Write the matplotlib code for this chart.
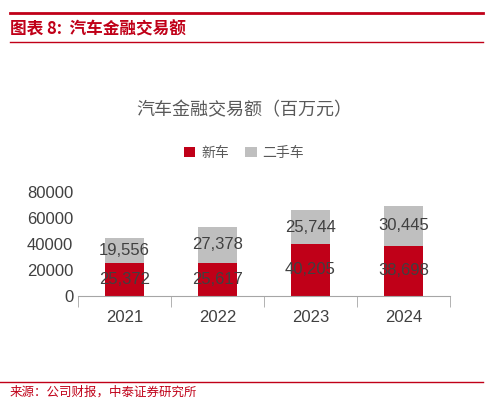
import numpy as np
import matplotlib.pyplot as plt
from matplotlib.lines import Line2D

plt.rcParams['font.family'] = ['Noto Sans CJK SC', 'DejaVu Sans']
num_font = ['Liberation Sans', 'DejaVu Sans']

years = ['2021', '2022', '2023', '2024']
new_car = [25372, 25617, 40205, 38698]
used_car = [19556, 27378, 25744, 30445]
red = '#C00018'
grey = '#BFBFBF'

fig = plt.figure(figsize=(4.88, 4.07), dpi=100)

# header / footer decoration
fig.add_artist(Line2D([0.02, 0.99], [1 - 13/407] * 2, color=red, lw=2))
fig.add_artist(Line2D([0.02, 0.99], [1 - 42/407] * 2, color=red, lw=1))
fig.text(0.02, 1 - 29/407, '图表 8:  汽车金融交易额', color=red, fontsize=12,
         fontweight='bold', style='italic', va='center')
fig.add_artist(Line2D([0.0, 0.99], [1 - 382/407] * 2, color=red, lw=1))
fig.text(0.02, 1 - 392/407, '来源：公司财报，中泰证券研究所', color=red, fontsize=9, va='center')

fig.text(0.5, 1 - 110/407, '汽车金融交易额（百万元）', color='#595959', fontsize=13,
         ha='center', va='center')

ax = fig.add_axes([0.16, 0.273, 0.762, 0.255])
x = np.arange(len(years))
b1 = ax.bar(x, new_car, width=0.42, color=red, label='新车')
b2 = ax.bar(x, used_car, width=0.42, bottom=new_car, color=grey, label='二手车')
for i in range(len(years)):
    ax.text(x[i], new_car[i] / 2, f'{new_car[i]:,}', ha='center', va='center',
            fontsize=12, color='#404040', family=num_font)
    ax.text(x[i], new_car[i] + used_car[i] / 2, f'{used_car[i]:,}', ha='center',
            va='center', fontsize=12, color='#404040', family=num_font)

ax.set_xlim(-0.5, 3.5)
ax.set_ylim(0, 80000)
ax.set_yticks(np.arange(0, 80001, 20000))
ax.tick_params(axis='y', labelsize=12, colors='#404040', length=0)
ax.set_xticks(x)
ax.set_xticklabels(years, fontsize=12, color='#404040')
for lab in ax.get_xticklabels() + ax.get_yticklabels():
    lab.set_family(num_font)
ax.set_xticks(np.arange(-0.5, 4.0, 1), minor=True)
ax.tick_params(axis='x', which='major', length=0, pad=10)
ax.tick_params(axis='x', which='minor', length=8, color='#A6A6A6')
for s in ['top', 'right', 'left']:
    ax.spines[s].set_visible(False)
ax.spines['bottom'].set_color('#A6A6A6')

fig.legend(handles=[b1, b2], loc='center', bbox_to_anchor=(0.5, 1 - 153/407), ncol=2,
           frameon=False, fontsize=10, handlelength=0.8, handleheight=0.8,
           columnspacing=1.2, handletextpad=0.4, labelcolor='#595959')

fig.savefig('out.png', dpi=100)
